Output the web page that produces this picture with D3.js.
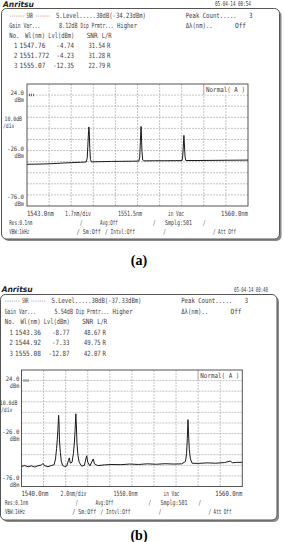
<!DOCTYPE html>
<html><head><meta charset="utf-8">
<script src="https://cdn.jsdelivr.net/npm/d3@7"></script>
<style>
html,body{margin:0;padding:0;background:#fff;}
svg{display:block;}
</style></head><body>
<svg id="c" width="284" height="542"></svg>
<script>
// ---------------- DATA ----------------
const captions = ["(a)", "(b)"];
const brand = "Anritsu";
const dates = ["05-04-14 00:54", "05-04-14 00:40"];
const sLevels = ["30dB(-34.23dBm)", "30dB(-37.33dBm)"];
const peakCounts = ["3", "3"];
const gainVars = ["8.12dB", "5.54dB"];
const dipPrmtrs = ["Higher", "Higher"];
const deltaLambdas = ["Off", "Off"];
const tableHead = ["No.", "Wl(nm)", "Lvl(dBm)", "SNR", "L/R"];

const peakNoA = ["1", "2", "3"];
const peakWlA = ["1547.76", "1551.772", "1555.07"];
const peakLvlA = ["-4.74", "-4.23", "-12.35"];
const peakSnrA = ["31.54", "31.28", "22.79"];
const peakLRA = ["R", "R", "R"];

const peakNoB = ["1", "2", "3"];
const peakWlB = ["1543.36", "1544.92", "1555.08"];
const peakLvlB = ["-8.77", "-7.33", "-12.87"];
const peakSnrB = ["48.67", "49.75", "42.07"];
const peakLRB = ["R", "R", "R"];

const xStartA = 1543.0, xStopA = 1560.0, xDivA = 1.7;
const xStartB = 1540.0, xStopB = 1560.0, xDivB = 2.0;
const xLabelsA = ["1543.0nm", "1.7nm/div", "1551.5nm", "in Vac", "1560.0nm"];
const xLabelsB = ["1540.0nm", "2.0nm/div", "1550.0nm", "in Vac", "1560.0nm"];
const refLevel = 24.0, dbPerDiv = 10.0, yDivs = 10;
const yLabelValues = ["24.0", "-26.0", "-76.0"];
const yUnit = "dBm";
const yScaleLabel = ["10.0dB", "/div"];
const traceMode = "Normal( A )";
const footer1 = ["Res:0.1nm", "/", "Avg:Off", "/", "Smplg:501", "/"];
const footer2 = ["VBW:1kHz", "/ Sm:Off", "/ Intvl:Off", "/", "/ Att Off"];

// trace (a): wavelength (nm) and level (dBm)
const traceWlA = [1543.0,1543.6,1544.3,1545.0,1545.7,1546.4,1547.1,1547.55,1547.63,1547.68,1547.72,1547.76,1547.79,1547.83,1547.88,1547.95,1548.7,1549.5,1550.3,1551.1,1551.6,1551.67,1551.72,1551.75,1551.772,1551.80,1551.84,1551.90,1551.98,1552.8,1553.6,1554.4,1554.93,1554.98,1555.03,1555.07,1555.11,1555.16,1555.22,1556.0,1557.0,1558.0,1559.0,1560.0];
const traceLvlA = [-38.4,-38.3,-38.1,-37.8,-37.3,-36.9,-36.6,-36.3,-33,-22,-12,-4.74,-9,-24,-34,-36.2,-36.0,-35.8,-35.7,-35.6,-35.5,-32,-18,-9,-4.23,-11,-26,-34.5,-35.3,-35.2,-35.2,-35.1,-35.1,-31,-21,-12.35,-21,-32,-35.0,-35.0,-34.9,-34.8,-34.7,-34.6];

// trace (b)
const traceWlB = [1540.0,1540.3,1540.6,1540.9,1541.2,1541.5,1541.8,1541.95,1542.1,1542.4,1542.7,1542.95,1543.08,1543.18,1543.24,1543.30,1543.36,1543.40,1543.44,1543.52,1543.60,1543.72,1543.9,1544.1,1544.25,1544.33,1544.42,1544.58,1544.70,1544.80,1544.86,1544.92,1544.97,1545.03,1545.12,1545.22,1545.45,1545.7,1545.85,1545.91,1546.0,1546.2,1546.4,1546.5,1546.6,1546.9,1547.5,1548.2,1549.0,1549.8,1550.6,1551.4,1552.2,1553.0,1553.8,1554.5,1554.85,1554.95,1555.02,1555.08,1555.13,1555.2,1555.3,1555.45,1556.0,1556.8,1557.6,1558.4,1558.9,1559.1,1559.5,1560.0];
const traceLvlB = [-57.0,-56.2,-57.4,-56.5,-57.6,-56.4,-55.8,-54.2,-56.4,-57.3,-56.2,-55.5,-50,-40,-32,-22,-8.77,-16,-33,-44,-52,-56,-57.2,-56.6,-51.5,-49,-54,-53,-45,-33,-22,-7.33,-18,-36,-47,-53,-56.8,-56,-49,-47,-53,-56.5,-52,-50,-54.5,-56.3,-55.6,-55.2,-55.4,-54.8,-55.2,-54.6,-55.0,-54.5,-54.8,-54.6,-52.5,-45,-31,-12.87,-26,-41,-50,-54,-54.2,-53.7,-54.0,-53.4,-52,-53.6,-53.2,-53.2];

// ---------------- LAYOUT ----------------
const MONO = "'DejaVu Sans Mono', monospace";
const TXT = "#3a3a3a";
const svg = d3.select("#c");

// text helper: width fitted through a horizontal scale transform
function t(g, s, x, y, opt) {
  opt = opt || {};
  const fs = opt.fs || 7.2;
  const el = g.append("text")
    .attr("x", 0).attr("y", 0)
    .attr("font-family", opt.family || MONO)
    .attr("font-size", fs)
    .attr("fill", opt.fill || TXT)
    .attr("text-anchor", opt.anchor || "start")
    .text(s);
  if (opt.weight) el.attr("font-weight", opt.weight);
  if (opt.style) el.attr("font-style", opt.style);
  let sx = 1;
  if (opt.w) {
    const nw = el.node().getComputedTextLength();
    if (nw > 0) sx = opt.w / nw;
  }
  el.attr("transform", `translate(${x},${y + fs * 0.36}) scale(${sx.toFixed(4)},1)`);
  return el;
}

const panels = [
  { i: 0, dx: 0, dateX: 215, dateW: 36,
    frame: {x0: 1.5, y0: 8.5, x1: 279.5, y1: 239}, brandY: 4,
    rowY: [15, 25, 35, 45, 55, 65],
    plot: {l: 27, r: 248, t: 84, b: 206}, yLabR: 24,
    xLabY: 213, f1Y: 223, f2Y: 232, capY: 265,
    xStart: xStartA, xStop: xStopA, xDiv: xDivA, xLabels: xLabelsA,
    no: peakNoA, wl: peakWlA, lvl: peakLvlA, snr: peakSnrA, lr: peakLRA,
    tw: traceWlA, tl: traceLvlA },
  { i: 1, dx: -4.5, dateX: 234, dateW: 34,
    frame: {x0: 0.5, y0: 294.5, x1: 277, y1: 520}, brandY: 289.5,
    rowY: [300.5, 311, 321.5, 332, 342.5, 353],
    plot: {l: 21.5, r: 242.3, t: 370, b: 486.5}, yLabR: 19.3,
    xLabY: 493.5, f1Y: 502.7, f2Y: 511.7, capY: 540,
    xStart: xStartB, xStop: xStopB, xDiv: xDivB, xLabels: xLabelsB,
    no: peakNoB, wl: peakWlB, lvl: peakLvlB, snr: peakSnrB, lr: peakLRB,
    tw: traceWlB, tl: traceLvlB }
];

panels.forEach(P => {
  const g = svg.append("g");
  const F = P.frame, dx = P.dx;
  // frame with shadow
  g.append("rect").attr("x", F.x0 + 2).attr("y", F.y0 + 2)
    .attr("width", F.x1 - F.x0).attr("height", F.y1 - F.y0)
    .attr("rx", 5).attr("fill", "#8a8a8a");
  g.append("rect").attr("x", F.x0).attr("y", F.y0)
    .attr("width", F.x1 - F.x0).attr("height", F.y1 - F.y0)
    .attr("rx", 5).attr("fill", "#fff").attr("stroke", "#555").attr("stroke-width", 1);

  // brand + date
  t(g, brand, 3 + dx * 0.3, P.brandY, {family: "'DejaVu Sans', sans-serif", fs: 8, weight: "bold", style: "italic", fill: "#222", w: 31});
  t(g, dates[P.i], P.dateX, P.brandY, {w: P.dateW, fs: 6.8});

  // header rows
  const R = P.rowY;
  t(g, "------- SNR -------", 9.3 + dx, R[0], {w: 41});
  t(g, "S.Level....." + sLevels[P.i], 56 + dx, R[0], {w: 90});
  t(g, "Peak Count.....", 185.7 + dx, R[0], {w: 51});
  t(g, peakCounts[P.i], 249 + dx, R[0], {w: 3.6});
  t(g, "Gain Var...", 9.3 + dx, R[1], {w: 31});
  t(g, gainVars[P.i], 59 + dx, R[1], {w: 18.5});
  t(g, "Dip Prmtr...", 80.5 + dx, R[1], {w: 33});
  t(g, dipPrmtrs[P.i], 117 + dx, R[1], {w: 20});
  t(g, "\u0394\u03bb(nm)..", 185.7 + dx, R[1], {w: 27});
  t(g, deltaLambdas[P.i], 235 + dx, R[1], {w: 11});
  const hx = [9.3, 25, 48.3, 86.7, 101.7], hw = [10, 20, 26, 11, 10];
  tableHead.forEach((s, k) => t(g, s, hx[k] + dx, R[2], {w: hw[k]}));
  P.no.forEach((n, k) => {
    const y = R[3 + k];
    t(g, n, 14 + dx, y, {w: 3.4});
    t(g, P.wl[k], 19.5 + dx, y, {w: P.wl[k].length * 3.7});
    t(g, P.lvl[k], 74 + dx, y, {w: P.lvl[k].length * 3.5, anchor: "end"});
    t(g, P.snr[k], 88.5 + dx, y, {w: P.snr[k].length * 3.3});
    t(g, P.lr[k], 107 + dx, y, {w: 3.4});
  });

  // plot
  const pl = P.plot;
  const x = d3.scaleLinear().domain([P.xStart, P.xStop]).range([pl.l, pl.r]);
  const topLevel = refLevel + dbPerDiv;
  const y = d3.scaleLinear().domain([refLevel - dbPerDiv * yDivs, topLevel]).range([pl.b, pl.t]);
  const gridG = g.append("g").attr("stroke", "#b4b4b4").attr("stroke-width", 0.8)
    .attr("stroke-dasharray", "2,1");
  d3.range(1, 10).forEach(k => {
    const xv = x(P.xStart + k * P.xDiv);
    gridG.append("line").attr("x1", xv).attr("x2", xv).attr("y1", pl.t).attr("y2", pl.b);
  });
  d3.range(0, yDivs).forEach(k => {
    const yv = y(refLevel - k * dbPerDiv);
    gridG.append("line").attr("x1", pl.l).attr("x2", pl.r).attr("y1", yv).attr("y2", yv);
  });
  // trace mode box
  const bx = x(P.xStart + 8 * P.xDiv), by = y(refLevel);
  g.append("rect").attr("x", bx).attr("y", pl.t + 0.5).attr("width", pl.r - bx - 0.5).attr("height", by - pl.t - 1).attr("fill", "#fff");
  g.append("line").attr("x1", bx).attr("x2", bx).attr("y1", pl.t).attr("y2", by).attr("stroke", "#999").attr("stroke-width", 0.8);
  t(g, traceMode, pl.r - 3, (pl.t + by) / 2, {anchor: "end", w: 39, fs: 6.8});
  // ref marker
  g.append("line").attr("x1", pl.l + 2).attr("x2", pl.l + 8).attr("y1", by).attr("y2", by)
    .attr("stroke", "#666").attr("stroke-width", 2.5).attr("stroke-dasharray", "1,1");
  // border
  g.append("rect").attr("x", pl.l).attr("y", pl.t).attr("width", pl.r - pl.l).attr("height", pl.b - pl.t)
    .attr("fill", "none").attr("stroke", "#555").attr("stroke-width", 1);
  // trace
  const pts = P.tw.map((w, k) => [w, P.tl[k]]);
  g.append("path").datum(pts)
    .attr("d", d3.line().x(d => x(d[0])).y(d => y(d[1])))
    .attr("fill", "none").attr("stroke", "#1a1a1a").attr("stroke-width", 1);

  // y labels
  const yl = P.yLabR;
  const LF = 6.2;
  yLabelValues.forEach((v, k) => {
    const yy = y(+v);
    const yc = k === 2 ? yy - 9 : yy - 2;
    t(g, v, yl, yc, {anchor: "end", w: v.length * 3.4, fs: LF});
    t(g, yUnit, yl, yc + 7, {anchor: "end", w: 9.5, fs: LF});
  });
  const ys = y(refLevel - dbPerDiv * 2);
  t(g, yScaleLabel[0], yl - 2, ys + 1, {anchor: "end", w: 17.5, fs: LF});
  t(g, yScaleLabel[1], Math.max(1, 3 + dx), ys + 8, {w: 11.5, fs: LF});

  // x labels
  const xl = P.xLabels;
  t(g, xl[0], pl.l, P.xLabY, {w: 27});
  t(g, xl[1], 65 + dx, P.xLabY, {w: 26});
  t(g, xl[2], 118 + dx, P.xLabY, {w: 24});
  t(g, xl[3], 168 + dx, P.xLabY, {w: 16});
  t(g, xl[4], pl.r, P.xLabY, {anchor: "end", w: 27});
  // footer
  const f1x = [9.3, 80, 100, 153, 165, 203], f1w = [23, 2.5, 18, 2.5, 27, 2.5];
  footer1.forEach((s, k) => t(g, s, Math.max(5, f1x[k] + dx), P.f1Y, {w: f1w[k], fs: 6.8}));
  const f2x = [9.3, 76.7, 105, 163.3, 213], f2w = [20, 24, 30, 2.5, 23];
  footer2.forEach((s, k) => t(g, s, Math.max(5, f2x[k] + dx), P.f2Y, {w: f2w[k], fs: 6.8}));

  // caption
  g.append("text").attr("x", 139).attr("y", P.capY).attr("text-anchor", "middle")
    .attr("font-family", "'Liberation Serif', 'Times New Roman', serif")
    .attr("font-weight", "bold").attr("font-size", 14).attr("fill", "#000")
    .text(captions[P.i]);
});
</script>
</body></html>
